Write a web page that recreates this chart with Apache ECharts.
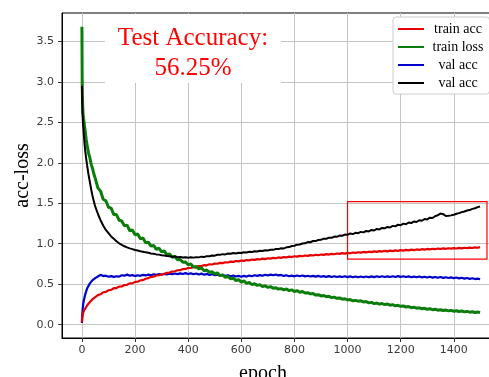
<!DOCTYPE html>
<html>
<head>
<meta charset="utf-8">
<script src="https://cdn.jsdelivr.net/npm/echarts@6/dist/echarts.min.js"></script>
<style>
  html, body { margin: 0; padding: 0; background: #fff; }
  #chart { width: 489px; height: 377px; }
</style>
</head>
<body>
<div id="chart"></div>
<script>
// epochs sampled from the training log
const epochs = [0, 1, 2, 3, 4, 6, 8, 10, 13, 16, 20, 25, 30, 35, 40, 45,
  50, 60, 70, 80, 90, 100, 110, 120, 130, 140,
  150, 160, 170, 180, 190, 200, 210, 220, 230, 240,
  250, 260, 270, 280, 290, 300, 310, 320, 330, 340,
  350, 360, 370, 380, 390, 400, 410, 420, 430, 440,
  450, 460, 470, 480, 490, 500, 510, 520, 530, 540,
  550, 560, 570, 580, 590, 600, 610, 620, 630, 640,
  650, 660, 670, 680, 690, 700, 710, 720, 730, 740,
  750, 760, 770, 780, 790, 800, 810, 820, 830, 840,
  850, 860, 870, 880, 890, 900, 910, 920, 930, 940,
  950, 960, 970, 980, 990, 1000, 1010, 1020, 1030, 1040,
  1050, 1060, 1070, 1080, 1090, 1100, 1110, 1120, 1130, 1140,
  1150, 1160, 1170, 1180, 1190, 1200, 1210, 1220, 1230, 1240,
  1250, 1260, 1270, 1280, 1290, 1300, 1310, 1320, 1330, 1340,
  1350, 1360, 1370, 1380, 1390, 1400, 1410, 1420, 1430, 1440,
  1450, 1460, 1470, 1480, 1490, 1499];

const trainAcc = [0.03, 0.07, 0.10, 0.12, 0.14, 0.16, 0.175, 0.185, 0.20, 0.22, 0.24, 0.26, 0.28, 0.30, 0.315, 0.33,
  0.34, 0.365, 0.375, 0.40, 0.405, 0.425, 0.43, 0.45, 0.452, 0.47,
  0.472, 0.49, 0.492, 0.51, 0.51, 0.528, 0.53, 0.547, 0.55, 0.567,
  0.575, 0.59, 0.593, 0.607, 0.61, 0.622, 0.625, 0.64, 0.643, 0.656,
  0.66, 0.672, 0.673, 0.687, 0.688, 0.70, 0.70, 0.712, 0.71, 0.724,
  0.724, 0.735, 0.733, 0.745, 0.743, 0.754, 0.752, 0.763, 0.76, 0.771,
  0.768, 0.779, 0.775, 0.786, 0.782, 0.792, 0.788, 0.798, 0.794, 0.804,
  0.80, 0.81, 0.805, 0.815, 0.81, 0.82, 0.815, 0.825, 0.82, 0.83,
  0.825, 0.835, 0.83, 0.84, 0.835, 0.845, 0.84, 0.85, 0.845, 0.854,
  0.85, 0.859, 0.854, 0.863, 0.858, 0.867, 0.862, 0.871, 0.866, 0.875,
  0.87, 0.879, 0.874, 0.883, 0.878, 0.887, 0.882, 0.891, 0.886, 0.894,
  0.889, 0.898, 0.893, 0.901, 0.896, 0.905, 0.899, 0.908, 0.903, 0.911,
  0.906, 0.914, 0.909, 0.917, 0.912, 0.92, 0.915, 0.923, 0.918, 0.926,
  0.921, 0.929, 0.924, 0.932, 0.927, 0.935, 0.93, 0.937, 0.932, 0.94,
  0.935, 0.942, 0.937, 0.944, 0.939, 0.946, 0.941, 0.948, 0.943, 0.95,
  0.945, 0.952, 0.947, 0.954, 0.95, 0.957];

const trainLoss = [3.68, 3.02, 2.81, 2.69, 2.61, 2.55, 2.50, 2.45, 2.37, 2.29, 2.21, 2.12, 2.06, 1.98, 1.93, 1.86,
  1.81, 1.69, 1.65, 1.55, 1.53, 1.45, 1.44, 1.36, 1.36, 1.29,
  1.28, 1.22, 1.23, 1.16, 1.17, 1.11, 1.12, 1.06, 1.07, 1.01,
  1.02, 0.97, 0.98, 0.93, 0.945, 0.90, 0.91, 0.865, 0.875, 0.83,
  0.845, 0.80, 0.805, 0.77, 0.775, 0.74, 0.75, 0.71, 0.72, 0.69,
  0.70, 0.665, 0.675, 0.645, 0.655, 0.625, 0.64, 0.605, 0.615, 0.585,
  0.595, 0.565, 0.575, 0.545, 0.555, 0.525, 0.54, 0.51, 0.52, 0.495,
  0.505, 0.485, 0.495, 0.47, 0.48, 0.46, 0.47, 0.45, 0.455, 0.44,
  0.445, 0.43, 0.44, 0.42, 0.43, 0.41, 0.42, 0.40, 0.41, 0.39,
  0.395, 0.38, 0.385, 0.365, 0.37, 0.355, 0.36, 0.345, 0.35, 0.335,
  0.34, 0.325, 0.33, 0.315, 0.32, 0.305, 0.31, 0.295, 0.30, 0.29,
  0.295, 0.28, 0.285, 0.27, 0.275, 0.26, 0.267, 0.254, 0.26, 0.248,
  0.255, 0.24, 0.247, 0.233, 0.239, 0.226, 0.231, 0.218, 0.223, 0.21,
  0.215, 0.203, 0.208, 0.196, 0.202, 0.19, 0.196, 0.185, 0.19, 0.179,
  0.184, 0.174, 0.18, 0.17, 0.176, 0.166, 0.172, 0.162, 0.168, 0.158,
  0.164, 0.154, 0.16, 0.15, 0.156, 0.148];

const valAcc = [0.02, 0.10, 0.16, 0.20, 0.23, 0.28, 0.31, 0.34, 0.38, 0.41, 0.45, 0.48, 0.51, 0.53, 0.55, 0.56,
  0.575, 0.595, 0.615, 0.60, 0.605, 0.592, 0.60, 0.59, 0.598, 0.593,
  0.61, 0.605, 0.618, 0.605, 0.612, 0.60, 0.61, 0.603, 0.615, 0.608,
  0.618, 0.61, 0.622, 0.614, 0.625, 0.617, 0.628, 0.62, 0.63, 0.622,
  0.632, 0.624, 0.633, 0.625, 0.636, 0.626, 0.634, 0.622, 0.632, 0.62,
  0.63, 0.617, 0.627, 0.614, 0.622, 0.61, 0.618, 0.606, 0.614, 0.602,
  0.61, 0.598, 0.606, 0.594, 0.603, 0.592, 0.602, 0.594, 0.606, 0.598,
  0.61, 0.602, 0.612, 0.604, 0.616, 0.607, 0.618, 0.61, 0.62, 0.608,
  0.614, 0.602, 0.61, 0.598, 0.606, 0.597, 0.607, 0.598, 0.608, 0.596,
  0.604, 0.594, 0.603, 0.593, 0.602, 0.591, 0.60, 0.59, 0.599, 0.589,
  0.598, 0.588, 0.597, 0.588, 0.598, 0.587, 0.596, 0.586, 0.595, 0.585,
  0.594, 0.585, 0.595, 0.586, 0.596, 0.587, 0.597, 0.588, 0.598, 0.589,
  0.597, 0.588, 0.598, 0.589, 0.599, 0.59, 0.598, 0.588, 0.596, 0.586,
  0.594, 0.585, 0.594, 0.584, 0.592, 0.582, 0.591, 0.581, 0.589, 0.579,
  0.588, 0.578, 0.586, 0.576, 0.584, 0.574, 0.582, 0.572, 0.58, 0.569,
  0.576, 0.566, 0.573, 0.563, 0.569, 0.56];

// second "val acc" curve (black) is really the validation loss
const valLoss = [2.95, 2.76, 2.63, 2.55, 2.49, 2.40, 2.31, 2.23, 2.13, 2.05, 1.96, 1.85, 1.76, 1.67, 1.59, 1.52,
  1.46, 1.37, 1.29, 1.225, 1.17, 1.13, 1.09, 1.06, 1.03, 1.005,
  0.985, 0.968, 0.955, 0.942, 0.933, 0.922, 0.915, 0.906, 0.901, 0.893,
  0.888, 0.880, 0.876, 0.868, 0.865, 0.857, 0.855, 0.847, 0.846, 0.840,
  0.842, 0.834, 0.836, 0.829, 0.833, 0.827, 0.832, 0.828, 0.834, 0.831,
  0.840, 0.836, 0.846, 0.845, 0.855, 0.852, 0.864, 0.862, 0.871, 0.868,
  0.878, 0.875, 0.884, 0.880, 0.889, 0.886, 0.895, 0.892, 0.900, 0.897,
  0.906, 0.903, 0.912, 0.909, 0.918, 0.916, 0.926, 0.924, 0.934, 0.933,
  0.943, 0.942, 0.955, 0.958, 0.972, 0.975, 0.988, 0.99, 1.003, 1.005,
  1.02, 1.018, 1.033, 1.032, 1.047, 1.048, 1.062, 1.06, 1.075, 1.073,
  1.088, 1.085, 1.10, 1.098, 1.113, 1.11, 1.127, 1.118, 1.135, 1.13,
  1.146, 1.14, 1.157, 1.152, 1.17, 1.163, 1.182, 1.176, 1.195, 1.19,
  1.207, 1.20, 1.22, 1.214, 1.235, 1.228, 1.248, 1.24, 1.262, 1.255,
  1.275, 1.268, 1.29, 1.283, 1.305, 1.30, 1.322, 1.318, 1.34, 1.352,
  1.372, 1.365, 1.342, 1.345, 1.35, 1.358, 1.37, 1.378, 1.39, 1.398,
  1.41, 1.415, 1.43, 1.438, 1.452, 1.46];

const xTicks = [0, 200, 400, 600, 800, 1000, 1200, 1400];
const yTicks = [0, 0.5, 1, 1.5, 2, 2.5, 3, 3.5];
// highlighted region (epoch / value corners)
const zoomBox = [[1000, 1.52], [1525, 0.81]];

const pairs = (vals) => epochs.map((e, i) => [e, vals[i]]);

const chart = echarts.init(document.getElementById('chart'));

const serif = 'Liberation Serif, Times New Roman, serif';
const tickFont = { fontFamily: 'DejaVu Sans', fontSize: 11, color: '#3a3a3a' };

const option = {
  animation: false,
  backgroundColor: '#fff',
  title: {
    text: 'Test Accuracy:\n56.25%',
    left: 180,
    top: 14,
    textAlign: 'center',
    backgroundColor: '#fff',
    padding: [9, 13, 0, 13],
    textStyle: {
      fontFamily: serif,
      fontSize: 25,
      fontWeight: 'normal',
      color: '#ff0000',
      lineHeight: 30,
      align: 'center'
    }
  },
  legend: {
    orient: 'vertical',
    left: 393,
    top: 17,
    padding: [5, 6, 4, 4],
    itemWidth: 26,
    itemHeight: 14,
    itemGap: 4,
    backgroundColor: '#fff',
    borderColor: '#cccccc',
    borderWidth: 1,
    borderRadius: 3,
    itemStyle: { opacity: 0 },
    lineStyle: { width: 2 },
    data: ['train acc', 'train loss', 'val acc', 'val acc '],
    formatter: (name) => '{t|' + name.trim() + '}',
    textStyle: {
      rich: {
        t: { width: 58, align: 'center', fontFamily: serif, fontSize: 14, color: '#000' }
      }
    }
  },
  grid: {
    left: 62,
    top: 13,
    right: -11,
    bottom: 39,
    outerBoundsMode: 'none',
    show: true,
    borderColor: '#000',
    borderWidth: 1
  },
  xAxis: {
    type: 'value',
    min: -75,
    max: 1574,
    name: 'epoch',
    nameLocation: 'middle',
    nameGap: 26,
    nameMoveOverlap: false,
    nameTextStyle: { fontFamily: serif, fontSize: 20, color: '#000', padding: [0, 36, 0, 0] },
    axisLine: { onZero: false, lineStyle: { color: '#000', width: 1 } },
    axisTick: { length: 4, customValues: xTicks, lineStyle: { color: '#333' } },
    axisLabel: Object.assign({ margin: 7, customValues: xTicks, formatter: (v) => String(v) }, tickFont),
    splitLine: { show: true, lineStyle: { color: '#c4c4c4', width: 1 } }
  },
  yAxis: {
    type: 'value',
    min: -0.165,
    max: 3.85,
    name: 'acc-loss',
    nameLocation: 'middle',
    nameGap: 29,
    nameMoveOverlap: false,
    nameTextStyle: { fontFamily: serif, fontSize: 20, color: '#000' },
    axisLine: { show: true, onZero: false, lineStyle: { color: '#000', width: 1 } },
    axisTick: { show: true, length: 4, customValues: yTicks, lineStyle: { color: '#333' } },
    axisLabel: Object.assign({ margin: 8, customValues: yTicks, formatter: (v) => v.toFixed(1) }, tickFont),
    splitLine: { show: true, lineStyle: { color: '#c4c4c4', width: 1 } }
  },
  series: [
    {
      name: 'train acc', type: 'line', symbol: 'none', data: pairs(trainAcc),
      lineStyle: { color: '#e60000', width: 2.2 }, itemStyle: { color: '#e60000' }, z: 3
    },
    {
      name: 'train loss', type: 'line', symbol: 'none', data: pairs(trainLoss),
      lineStyle: { color: '#0a7d0a', width: 3 }, itemStyle: { color: '#0a7d0a' }, z: 4
    },
    {
      name: 'val acc', type: 'line', symbol: 'none', data: pairs(valAcc),
      lineStyle: { color: '#0000cc', width: 2.2 }, itemStyle: { color: '#0000cc' }, z: 2
    },
    {
      name: 'val acc ', type: 'line', symbol: 'none', data: pairs(valLoss),
      lineStyle: { color: '#000', width: 2 }, itemStyle: { color: '#000' }, z: 5,
      markArea: {
        silent: true,
        itemStyle: { color: 'rgba(0,0,0,0)', borderColor: '#ff0000', borderWidth: 1.2 },
        data: [[
          { xAxis: zoomBox[0][0], yAxis: zoomBox[0][1] },
          { xAxis: zoomBox[1][0], yAxis: zoomBox[1][1] }
        ]]
      }
    }
  ]
};

chart.setOption(option);
window.addEventListener('resize', () => chart.resize());
</script>
</body>
</html>
